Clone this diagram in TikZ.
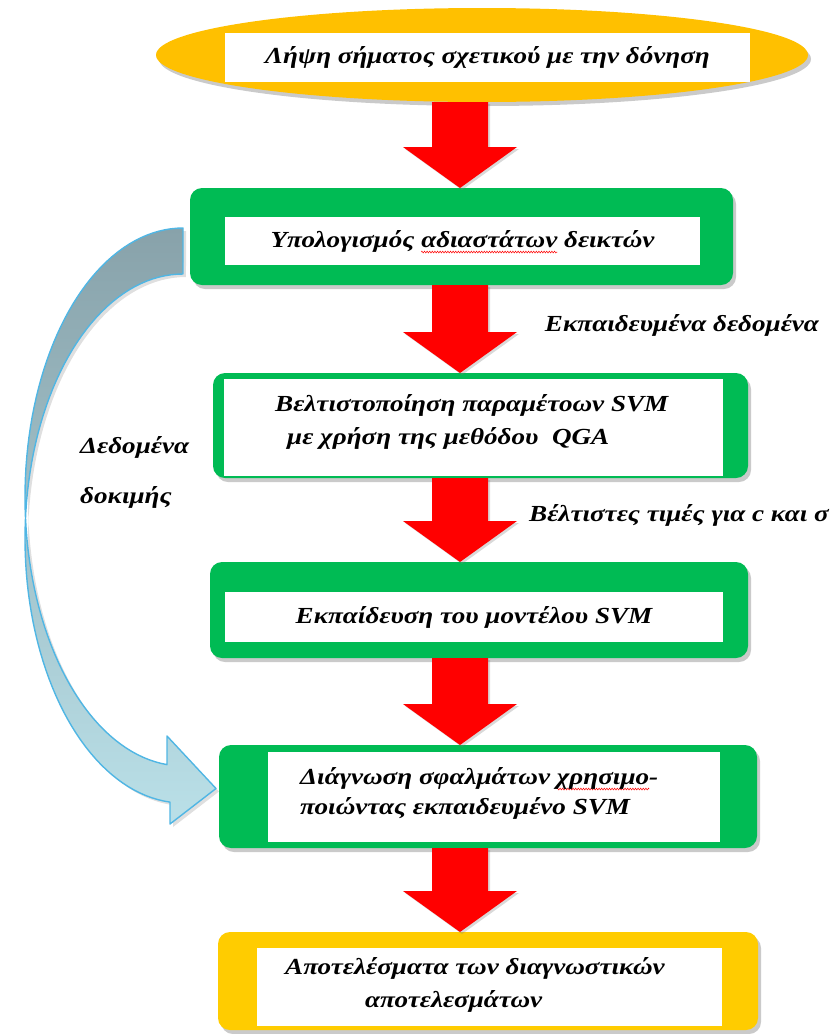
\documentclass[tikz,border=0pt]{standalone}
\usepackage{fontspec}
\setmainfont{Liberation Serif}
\newfontfamily\grfont[FakeStretch=1.18]{Liberation Serif}
\usetikzlibrary{shapes.geometric,shadows,calc,decorations.pathmorphing}

\definecolor{flowgreen}{RGB}{0,187,84}
\definecolor{ellyellow}{RGB}{255,192,0}
\definecolor{resyellow}{RGB}{255,204,0}
\definecolor{arrowred}{RGB}{255,0,0}
\definecolor{bandgrey}{RGB}{136,162,170}
\definecolor{bandblue}{RGB}{186,224,232}
\definecolor{bandline}{RGB}{80,182,228}

% red wavy spelling underline under a word
\newsavebox\wavebox
\newdimen\wavewd
\newcommand\redwave[1]{%
  \sbox\wavebox{#1}\wavewd=\wd\wavebox
  \tikz[baseline=0pt, x=1pt, y=1pt]{\useasboundingbox (0,0);
    \draw[red, line width=0.5pt, decorate, decoration={zigzag, amplitude=0.9pt, segment length=2.6pt}]
      (0,-5) -- (\wavewd,-5);}%
  \usebox\wavebox}

\tikzset{
  lbl/.style={font=\grfont\bfseries\itshape\fontsize{23}{33}\selectfont, inner sep=0pt, text=black},
  boxshadow/.style={drop shadow={shadow xshift=3pt, shadow yshift=-4pt, opacity=0.35, fill=black!60}},
  greenbox/.style={fill=flowgreen, rounded corners=12pt, outer sep=0pt, inner sep=0pt, boxshadow},
  panel/.style={fill=white, outer sep=0pt, inner sep=0pt, font=\grfont\bfseries\itshape\fontsize{23}{33}\selectfont},
}

% red block arrow pointing down, from one node edge to the next
\newcommand\blockdown[2]{%
  \fill[arrowred, drop shadow={shadow xshift=2pt, shadow yshift=-2pt, opacity=0.3}]
    let \p1=(#1 -| axis), \p2=(#2 -| axis) in
    (\x1-28pt,\y1) -- (\x1+28pt,\y1) -- (\x1+28pt,\y2+41pt) -- (\x1+57pt,\y2+41pt)
    -- (\x2,\y2) -- (\x1-57pt,\y2+41pt) -- (\x1-28pt,\y2+41pt) -- cycle;}

\begin{document}
\begin{tikzpicture}[x=1pt, y=-1pt]
\useasboundingbox (0,0) rectangle (830,1034);
\coordinate (axis) at (460,0);

% boxes
\node[ellipse, fill=ellyellow, minimum width=652pt, minimum height=94pt, outer sep=0pt, boxshadow] (e1) at (482,55) {};
\node[greenbox, minimum width=543pt, minimum height=97pt] (b1) at (461.5,236.5) {};
\node[greenbox, minimum width=535pt, minimum height=105pt] (b2) at (480.5,425.5) {};
\node[greenbox, minimum width=538pt, minimum height=96pt] (b3) at (479,610) {};
\node[greenbox, minimum width=538pt, minimum height=103pt] (b4) at (488,796.5) {};
\node[greenbox, fill=resyellow, minimum width=540pt, minimum height=98pt] (b5) at (488,981) {};

% curved arrow carrying the test data
\begin{scope}[shift={(b1.west)}]
  \path[top color=bandgrey, bottom color=bandblue, draw=bandline, line width=1.4pt, line join=round,
        drop shadow={shadow xshift=3pt, shadow yshift=-3pt, opacity=0.25}]
    plot[domain=0:174.2, samples=80, variable=\t] ({-7-158*sin(\t)}, {260.5-269*cos(\t)})
    -- (-23,499.5) -- ($(b4.west)+(-3,-8)$) -- (-20,587.5) -- (-20,565.6)
    -- plot[domain=175.28:0, samples=80, variable=\t] ({-7-158*sin(\t)}, {302-264.5*cos(\t)})
    -- cycle;
\end{scope}

% white text panels
\node[panel, minimum width=525pt, minimum height=49pt] (p0) at (487.5,57.5) {Λήψη σήματος σχετικού με την δόνηση};
\node[panel, minimum width=475pt, minimum height=48pt] (p1) at (462.5,241) {Υπολογισμός \redwave{αδιαστάτων} δεικτών};
\node[panel, minimum width=499pt, minimum height=97pt] (p2) at (473.5,427.5) {};
\node[lbl, align=left, anchor=west] (t2) at (275,422) {Βελτιστοποίηση παραμέτοων SVM\\\hspace*{12pt}με χρήση της μεθόδου \ QGA};
\node[panel, minimum width=498pt, minimum height=50pt] (p3) at (474,617) {Εκπαίδευση του μοντέλου SVM};
\node[panel, minimum width=452pt, minimum height=90pt] (p4) at (494,797) {};
\node[lbl, align=left, anchor=west, font=\grfont\bfseries\itshape\fontsize{23}{30}\selectfont] (t4) at (300,793) {Διάγνωση σφαλμάτων \redwave{χρησιμο}-\\ποιώντας εκπαιδευμένο SVM};
\node[panel, minimum width=465pt, minimum height=78pt] (p5) at (489.5,987) {};
\node[lbl, align=left, anchor=west] (t5) at (285,985) {Αποτελέσματα των διαγνωστικών\\\hspace*{80pt}αποτελεσμάτων};

% flow arrows
\blockdown{e1.south}{b1.north}
\blockdown{b1.south}{b2.north}
\blockdown{b2.south}{b3.north}
\blockdown{b3.south}{b4.north}
\blockdown{b4.south}{b5.north}

% side labels
\node[lbl] (l1) at (682,325) {Εκπαιδευμένα δεδομένα};
\node[lbl] (l2) at (679,515) {Βέλτιστες τιμές για c και σ};
\node[lbl, align=left, anchor=west, font=\grfont\bfseries\itshape\fontsize{23}{50}\selectfont] (l3) at (80,472) {Δεδομένα\\δοκιμής};
\end{tikzpicture}
\end{document}
